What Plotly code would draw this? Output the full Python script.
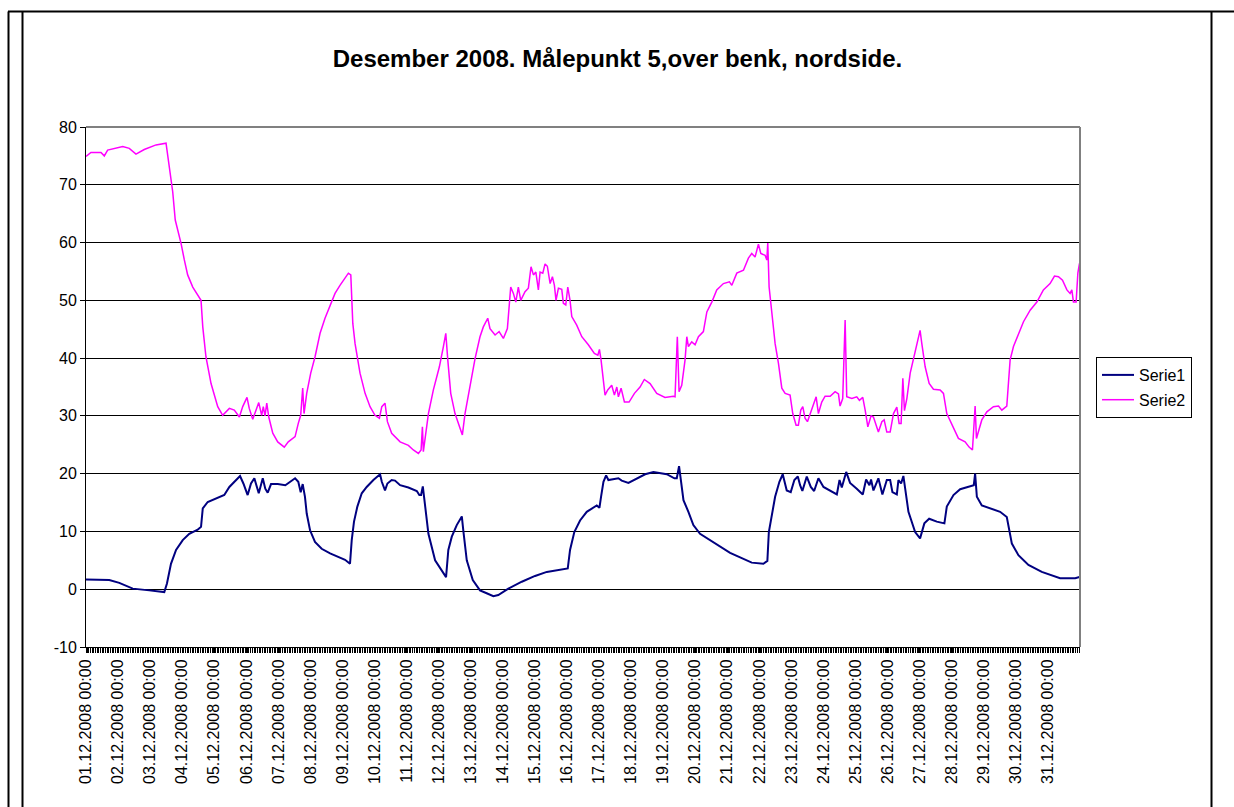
import pandas as pd
import plotly.graph_objects as go

START = pd.Timestamp("2008-12-01 00:00")

# Serie1: hours since 01.12.2008 00:00 and readings
serie1_hours = [
    0.0, 17.4, 24.9, 35.0, 47.4, 58.6, 60.6, 63.6, 67.4, 72.4, 77.3, 83.6, 86.1, 87.4, 91.1, 97.3,
    103.5, 107.3, 111.0, 115.3, 117.8, 121.0, 123.5, 126.0, 129.3, 132.3, 134.2, 136.0, 138.5, 143.5,
    149.2, 156.5, 158.9, 160.7, 162.2, 163.9, 165.2, 167.7, 171.4, 176.4, 182.7, 188.9, 193.9, 197.6,
    198.9, 200.6, 203.1, 206.4, 210.1, 215.1, 218.8, 220.1, 221.4, 223.8, 225.6, 228.8, 231.3, 235.1,
    241.3, 247.6, 249.5, 250.8, 252.1, 253.8, 256.3, 261.3, 266.3, 269.5, 271.2, 273.8, 277.5, 281.3,
    282.4, 285.0, 289.5, 293.7, 294.9, 299.9, 304.9, 308.6, 316.1, 326.2, 336.1, 344.9, 353.6, 360.6,
    362.3, 365.5, 369.8, 374.8, 382.3, 384.3, 385.5, 387.3, 389.3, 391.0, 398.5, 401.0, 406.0, 411.0,
    418.5, 424.7, 428.0, 434.7, 440.4, 442.2, 443.9, 445.2, 447.2, 450.9, 454.6, 459.6, 467.1, 474.6,
    482.1, 489.6, 498.3, 507.0, 510.0, 511.1, 512.8, 515.8, 519.0, 521.5, 524.5, 527.5, 530.2, 532.8,
    534.5, 536.2, 539.5, 542.5, 545.0, 548.2, 552.0, 557.0, 562.0, 564.0, 565.7, 569.0, 571.9, 576.9,
    581.4, 583.9, 586.4, 587.6, 589.4, 593.1, 596.1, 599.4, 601.9, 603.6, 606.9, 608.1, 610.1, 611.8,
    613.1, 615.6, 620.6, 624.3, 627.5, 631.1, 636.8, 642.5, 644.3, 649.3, 654.3, 660.5, 664.5, 665.5,
    666.8, 670.5, 678.0, 684.2, 689.2, 693.0, 697.9, 705.4, 715.4, 729.1, 740.4, 743.6,
]
serie1_values = [
    1.7, 1.6, 1.1, 0.1, -0.2, -0.5, 1.0, 4.4, 6.8, 8.5, 9.6, 10.3, 10.8, 14.0, 15.1, 15.7,
    16.3, 17.7, 18.6, 19.6, 18.3, 16.3, 18.3, 19.2, 16.6, 19.2, 17.4, 16.7, 18.2, 18.2,
    18.0, 19.2, 18.6, 16.8, 18.2, 16.0, 13.1, 10.2, 8.2, 7.0, 6.2, 5.6, 5.1, 4.4,
    8.5, 11.7, 14.3, 16.6, 17.7, 18.9, 19.6, 19.9, 18.6, 17.1, 18.3, 18.9, 18.8, 18.0,
    17.6, 17.0, 16.3, 16.3, 17.8, 14.8, 9.6, 5.0, 3.3, 2.1, 6.8, 9.1, 11.1, 12.6,
    10.2, 5.0, 1.6, 0.1, -0.2, -0.7, -1.2, -1.0, 0.1, 1.3, 2.3, 3.0, 3.3, 3.6,
    6.8, 9.9, 11.9, 13.4, 14.5, 14.1, 16.0, 18.6, 19.7, 18.9, 19.2, 18.8, 18.4, 19.0,
    19.9, 20.3, 20.2, 19.9, 19.2, 19.2, 21.3, 18.9, 15.4, 13.4, 11.1, 9.6, 8.5, 7.3,
    6.3, 5.5, 4.6, 4.4, 4.9, 9.9, 12.2, 16.0, 18.6, 19.9, 17.1, 16.8, 18.9, 19.5,
    18.0, 17.0, 19.5, 17.7, 17.0, 19.2, 17.7, 17.0, 16.4, 18.9, 17.6, 20.3, 18.4, 17.4,
    16.4, 19.0, 18.0, 19.0, 17.1, 19.2, 16.4, 18.9, 18.9, 16.8, 16.4, 18.9, 18.3, 19.6,
    17.7, 13.4, 9.9, 8.8, 11.4, 12.2, 11.7, 11.4, 14.3, 16.3, 17.3, 17.7, 18.0, 20.0,
    16.0, 14.5, 13.9, 13.4, 12.5, 7.9, 5.9, 4.2, 3.0, 1.9, 1.9, 2.1,
]

# Serie2: hours since 01.12.2008 00:00 and readings
serie2_hours = [
    0.0, 3.7, 11.2, 13.7, 16.2, 27.5, 32.4, 37.4, 43.6, 52.4, 59.9, 62.4, 64.9, 66.8, 71.1, 73.6,
    76.1, 79.9, 84.8, 86.1, 87.4, 89.8, 93.6, 98.6, 102.3, 107.3, 111.0, 114.8, 117.3, 120.5, 122.2,
    124.8, 127.3, 129.3, 131.5, 132.7, 134.0, 135.3, 136.8, 139.8, 143.5, 148.4, 151.4, 156.5, 158.9,
    160.7, 162.2, 163.2, 165.2, 168.2, 171.4, 175.2, 178.9, 182.7, 186.4, 190.1, 193.9, 196.4, 198.2,
    199.7, 201.4, 205.1, 208.9, 212.6, 216.3, 219.6, 221.4, 223.8, 225.6, 228.8, 235.1, 241.3, 245.0,
    248.8, 250.8, 251.8, 252.5, 253.8, 256.3, 260.0, 264.5, 267.5, 269.3, 270.8, 273.0, 276.2, 280.0,
    281.7, 283.7, 287.5, 291.2, 294.9, 297.4, 300.7, 302.4, 306.2, 309.2, 312.4, 315.4, 317.9, 319.9,
    321.7, 323.6, 325.4, 328.6, 331.1, 333.1, 334.9, 336.7, 338.6, 339.9, 341.9, 343.6, 345.3, 347.4,
    349.1, 350.6, 351.8, 353.6, 356.1, 357.3, 359.1, 360.6, 362.3, 363.6, 367.3, 371.1, 376.0, 380.5,
    383.1, 384.3, 385.5, 386.8, 388.5, 390.5, 393.5, 395.5, 397.3, 398.5, 400.5, 403.0, 406.5, 410.5,
    414.7, 417.9, 422.2, 427.2, 433.4, 439.6, 440.9, 442.6, 443.9, 445.9, 448.4, 449.7, 450.9, 453.4,
    455.9, 458.4, 462.1, 464.7, 468.4, 472.1, 477.1, 481.6, 483.4, 487.1, 492.1, 495.8, 498.3, 500.8,
    503.3, 505.1, 508.3, 509.6, 510.3, 511.3, 513.3, 515.8, 518.3, 520.8, 523.3, 527.0, 529.0, 531.5,
    533.2, 535.0, 536.5, 538.2, 540.0, 542.0, 544.5, 546.5, 548.2, 550.7, 553.2, 557.0, 560.7, 563.2,
    564.4, 566.4, 568.2, 569.4, 573.2, 576.9, 578.9, 581.4, 583.2, 585.2, 587.6, 589.4, 593.1, 595.7,
    597.4, 599.4, 601.9, 604.4, 606.9, 608.6, 610.1, 611.4, 612.6, 614.4, 616.9, 620.1, 622.6, 624.3,
    625.6, 628.1, 631.1, 634.3, 639.3, 641.8, 644.3, 648.5, 653.0, 658.0, 661.0, 663.5, 665.5, 666.5,
    668.0, 670.5, 674.3, 679.2, 683.0, 685.5, 689.2, 691.7, 694.2, 697.9, 701.7, 706.7, 711.7, 716.6,
    721.6, 724.9, 727.9, 730.9, 734.2, 736.6, 737.9, 739.1, 741.1, 742.4, 743.6,
]
serie2_values = [
    74.9, 75.6, 75.6, 75.0, 76.0, 76.6, 76.3, 75.3, 76.1, 76.9, 77.2, 72.6, 68.8, 63.9, 59.9, 57.0,
    54.4, 52.3, 50.6, 50.0, 45.4, 40.2, 35.6, 31.6, 30.1, 31.3, 31.0, 29.8, 31.6, 33.2, 31.3,
    29.4, 31.0, 32.3, 30.1, 31.6, 30.0, 32.2, 29.8, 27.0, 25.5, 24.6, 25.5, 26.4, 28.7,
    30.1, 34.8, 30.4, 33.9, 37.4, 40.2, 44.3, 46.9, 49.2, 51.2, 52.6, 53.8, 54.7, 54.4,
    46.0, 42.5, 37.4, 33.9, 31.6, 30.1, 29.6, 31.6, 32.2, 29.0, 27.0, 25.5, 24.9, 24.1,
    23.5, 24.1, 28.1, 23.8, 25.8, 30.4, 34.5, 38.5, 42.0, 44.3, 39.7, 33.9, 30.4, 27.8,
    26.7, 30.4, 35.6, 39.9, 43.7, 45.4, 46.9, 45.1, 44.0, 44.6, 43.4, 45.1, 52.3, 51.2,
    49.7, 52.3, 50.0, 51.5, 52.1, 55.8, 54.4, 54.9, 51.8, 54.9, 54.7, 56.3, 55.9, 52.9,
    54.1, 52.6, 50.0, 52.1, 51.9, 49.5, 49.2, 52.3, 50.0, 47.2, 45.7, 43.7, 42.3, 40.8,
    40.5, 41.5, 39.7, 36.8, 33.6, 34.5, 35.3, 33.6, 35.0, 33.3, 34.8, 32.4, 32.4, 33.9,
    35.0, 36.3, 35.6, 33.9, 33.2, 33.4, 33.3, 43.7, 34.2, 35.3, 39.7, 43.7, 42.0, 42.8,
    42.3, 43.7, 44.6, 48.0, 49.7, 51.8, 52.9, 53.2, 52.6, 54.7, 55.2, 57.3, 58.1, 57.5,
    59.7, 58.1, 57.8, 57.0, 59.9, 52.3, 48.3, 42.5, 39.1, 34.8, 33.9, 33.6, 30.4, 28.4,
    28.4, 31.0, 31.6, 29.6, 29.0, 30.4, 32.2, 33.3, 30.4, 32.4, 33.4, 33.4, 34.2, 33.8,
    31.7, 33.0, 46.6, 33.3, 33.0, 33.3, 32.7, 33.2, 31.0, 28.1, 30.0, 29.8, 27.2, 29.0,
    29.3, 27.2, 27.2, 30.4, 31.5, 28.7, 28.7, 36.5, 30.9, 33.0, 37.4, 40.5, 42.8, 44.8,
    42.5, 38.5, 35.6, 34.6, 34.5, 33.9, 30.4, 28.4, 26.1, 25.5, 24.6, 24.1, 31.7, 26.1,
    27.5, 29.3, 30.7, 31.6, 31.7, 31.0, 31.7, 39.7, 42.0, 44.3, 46.3, 48.3, 49.7, 51.8,
    52.9, 54.2, 54.1, 53.5, 51.8, 51.2, 51.8, 49.7, 49.7, 54.7, 56.4,
]

# Daily category labels along the time axis
day_ticks = pd.date_range("2008-12-01", "2008-12-31", freq="D")
day_labels = [d.strftime("%d.%m.%Y %H:%M") for d in day_ticks]

y_ticks = [-10, 0, 10, 20, 30, 40, 50, 60, 70, 80]
y_labels = [str(v) for v in y_ticks]

x1 = START + pd.to_timedelta(serie1_hours, unit="h")
x2 = START + pd.to_timedelta(serie2_hours, unit="h")

W, H = 1234, 807
L, R, T, B = 86, 1080, 127, 647
PW, PH = R - L, B - T


def px(x):
    return (x - L) / PW


def py(y):
    return (B - y) / PH


FONT = "Arial, Liberation Sans, sans-serif"

fig = go.Figure()
fig.add_trace(go.Scatter(x=x1, y=serie1_values, mode="lines", name="Serie1",
                         legendgroup="a", line=dict(color="#000080", width=2)))
fig.add_trace(go.Scatter(x=x2, y=serie2_values, mode="lines", name="Serie2",
                         legendgroup="b", line=dict(color="#FF00FF", width=1.5)))

shapes = []
# frame around the sheet area
line_black = dict(color="black", width=2)
shapes.append(dict(type="line", xref="paper", yref="paper", x0=px(8), x1=px(1234),
                   y0=py(11.5), y1=py(11.5), line=line_black))
for xv in (8.5, 22.5, 1211.5):
    shapes.append(dict(type="line", xref="paper", yref="paper", x0=px(xv), x1=px(xv),
                       y0=py(11.5), y1=py(807), line=line_black))
# grey plot-area border on top and right
shapes.append(dict(type="line", xref="paper", yref="paper", x0=0, x1=1, y0=1, y1=1,
                   line=dict(color="#808080", width=2), layer="above"))
shapes.append(dict(type="line", xref="paper", yref="paper", x0=1, x1=1, y0=0, y1=1,
                   line=dict(color="#808080", width=2), layer="above"))

fig.update_layout(
    width=W, height=H,
    margin=dict(l=L, r=W - R, t=T, b=H - B),
    paper_bgcolor="white", plot_bgcolor="white",
    font=dict(family=FONT, size=16, color="black"),
    title=dict(text="<b>Desember 2008. Målepunkt 5,over benk, nordside.</b>",
               x=617.5 / W, xref="container", xanchor="center",
               y=1 - 59 / H, yref="container", yanchor="middle",
               font=dict(family=FONT, size=24, color="black")),
    showlegend=True,
    legend=dict(x=px(1096), xanchor="left", y=py(357), yanchor="top",
                bordercolor="black", borderwidth=1, bgcolor="white",
                font=dict(family=FONT, size=16, color="black"),
                tracegroupgap=1, itemwidth=32),
    shapes=shapes,
    hovermode=False,
)

fig.update_xaxes(
    type="date",
    range=[START, START + pd.Timedelta(days=31)],
    tickvals=day_ticks, ticktext=day_labels, tickangle=-90,
    ticks="outside", ticklen=5, tickcolor="black", tickwidth=1,
    minor=dict(ticks="outside", ticklen=5, tickcolor="black", tickwidth=1, dtick=4500000),
    showgrid=False, showline=True, linecolor="black", linewidth=1,
    tickfont=dict(family=FONT, size=16, color="black"),
    zeroline=False,
)
fig.update_yaxes(
    range=[-10, 80], tickvals=y_ticks, ticktext=y_labels,
    ticks="outside", ticklen=5, tickcolor="black", tickwidth=1,
    showgrid=True, gridcolor="black", gridwidth=1,
    showline=True, linecolor="black", linewidth=1,
    zeroline=False,
    tickfont=dict(family=FONT, size=16, color="black"),
)

fig.write_html("out.html")
